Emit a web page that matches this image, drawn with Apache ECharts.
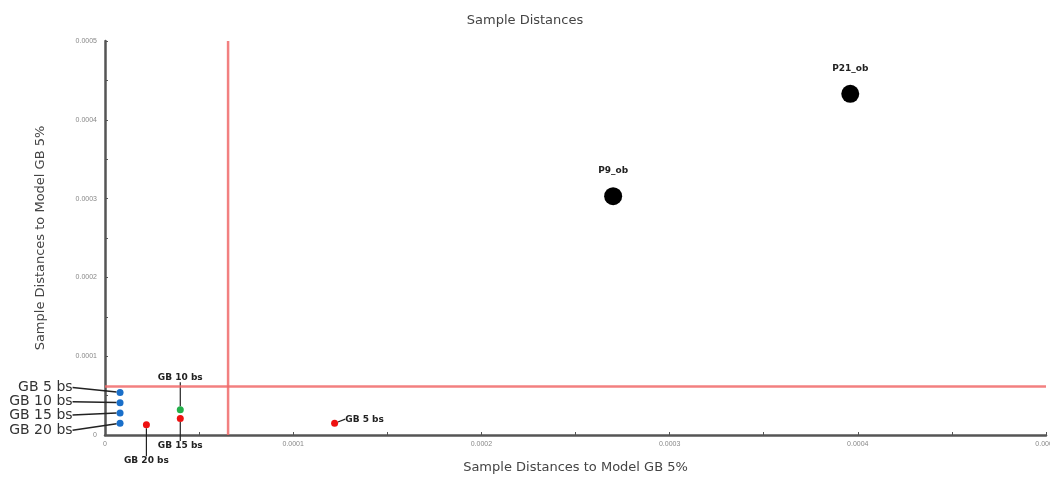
<!DOCTYPE html>
<html>
<head>
<meta charset="utf-8">
<script src="https://cdn.jsdelivr.net/npm/echarts@6/dist/echarts.min.js"></script>
<style>
html, body { margin: 0; padding: 0; background: #fff; }
#chart { width: 1050px; height: 477px; }
</style>
</head>
<body>
<div id="chart"></div>
<script>
// data
var blueNames = ['GB 5 bs', 'GB 10 bs', 'GB 15 bs', 'GB 20 bs'];
var bluePoints = [[0.000008, 0.000054], [0.000008, 0.000041], [0.000008, 0.000028], [0.000008, 0.000015]];
var greenNames = ['GB 10 bs'];
var greenPoints = [[0.00004, 0.000032]];
var redNames = ['GB 15 bs', 'GB 20 bs', 'GB 5 bs'];
var redPoints = [[0.00004, 0.000021], [0.000022, 0.000013], [0.000122, 0.000015]];
var blackNames = ['P9_ob', 'P21_ob'];
var blackPoints = [[0.00027, 0.000303], [0.000396, 0.000433]];
// threshold lines
var cutX = 0.0000654;
var cutY = 0.0000615;
var axisMax = 0.0005;

function withNames(pts, names) {
	return pts.map(function(p, i) {
		return { name: names[i], value: p };
	});
}

var labelFont = { fontFamily: 'DejaVu Sans', fontSize: 9, color: '#222', fontWeight: 'bold' };

// label nudges (pixels)
var blueOffsets = [[-40, -5], [-40, -1], [-40, 2], [-40, 7]];
var redOffsets = [[0, 17], [0, 26]];

var cutStyle = { color: '#f06a6a', width: 2.5, opacity: 0.85 };

var chart = echarts.init(document.getElementById('chart'));
var option = {
	animation: false,
	title: {
		text: 'Sample Distances',
		left: 'center',
		top: 9,
		textStyle: { fontFamily: 'DejaVu Sans', fontSize: 13, fontWeight: 'normal', color: '#444' }
	},
	grid: { left: 105, right: 4, top: 41, bottom: 42, outerBoundsMode: 'none' },
	xAxis: {
		type: 'value',
		min: 0,
		max: axisMax,
		interval: 0.0001,
		name: 'Sample Distances to Model GB 5%',
		nameLocation: 'middle',
		nameGap: 26,
		nameTextStyle: { fontFamily: 'DejaVu Sans', fontSize: 13, color: '#444' },
		axisLine: { lineStyle: { color: '#555', width: 2.5 } },
		axisTick: { inside: true, length: 3, lineStyle: { color: '#555' } },
		minorTick: { show: true, splitNumber: 2, length: 3, lineStyle: { color: '#555' } },
		axisLabel: {
			fontSize: 7, color: '#888', margin: 6,
			formatter: function(v) { return v === 0 ? '0' : v.toFixed(4); }
		},
		splitLine: { show: false }
	},
	yAxis: {
		type: 'value',
		min: 0,
		max: axisMax,
		interval: 0.0001,
		name: 'Sample Distances to Model GB 5%',
		nameLocation: 'middle',
		nameGap: 58,
		nameTextStyle: { fontFamily: 'DejaVu Sans', fontSize: 13, color: '#444' },
		axisLine: { lineStyle: { color: '#555', width: 2.5 } },
		axisTick: { inside: true, length: 3, lineStyle: { color: '#555' } },
		minorTick: { show: true, splitNumber: 2, length: 3, lineStyle: { color: '#555' } },
		axisLabel: {
			fontSize: 7, color: '#888', margin: 8,
			formatter: function(v) { return v === 0 ? '0' : v.toFixed(4); }
		},
		splitLine: { show: false }
	},
	series: [{
		name: 'cutX',
		type: 'line',
		symbol: 'none',
		silent: true,
		lineStyle: cutStyle,
		data: [[cutX, 0], [cutX, axisMax]]
	}, {
		name: 'cutY',
		type: 'line',
		symbol: 'none',
		silent: true,
		lineStyle: cutStyle,
		data: [[0, cutY], [axisMax, cutY]]
	}, {
		name: 'black',
		type: 'scatter',
		symbolSize: 18,
		itemStyle: { color: '#000', opacity: 1 },
		data: withNames(blackPoints, blackNames),
		label: Object.assign({ show: true, formatter: '{b}', position: 'top', distance: 12 }, labelFont)
	}, {
		name: 'blue',
		type: 'scatter',
		symbolSize: 7,
		itemStyle: { color: '#1a6fc9', opacity: 1 },
		data: withNames(bluePoints, blueNames),
		label: { show: true, formatter: '{b}', position: 'left', distance: 4, fontFamily: 'DejaVu Sans', fontSize: 14, color: '#333' },
		labelLayout: function(p) {
			return { dx: blueOffsets[p.dataIndex][0], dy: blueOffsets[p.dataIndex][1] };
		},
		labelLine: { show: true, lineStyle: { color: '#222', width: 1.5 } }
	}, {
		name: 'green',
		type: 'scatter',
		symbolSize: 7,
		itemStyle: { color: '#22b04a', opacity: 1 },
		data: withNames(greenPoints, greenNames),
		label: Object.assign({ show: true, formatter: '{b}', position: 'top', distance: 2 }, labelFont),
		labelLayout: { dy: -22 },
		labelLine: { show: true, lineStyle: { color: '#222', width: 1.2 } }
	}, {
		name: 'red',
		type: 'scatter',
		symbolSize: 7,
		itemStyle: { color: '#ee1111', opacity: 1 },
		data: withNames(redPoints, redNames),
		label: Object.assign({ show: true, formatter: '{b}', position: 'bottom', distance: 2 }, labelFont),
		labelLayout: function(p) {
			if (p.dataIndex === 2) {
				return { dx: 30, dy: -14 };
			}
			return { dy: redOffsets[p.dataIndex][1] };
		},
		labelLine: { show: true, lineStyle: { color: '#222', width: 1.2 } }
	}]
};
chart.setOption(option);
</script>
</body>
</html>
